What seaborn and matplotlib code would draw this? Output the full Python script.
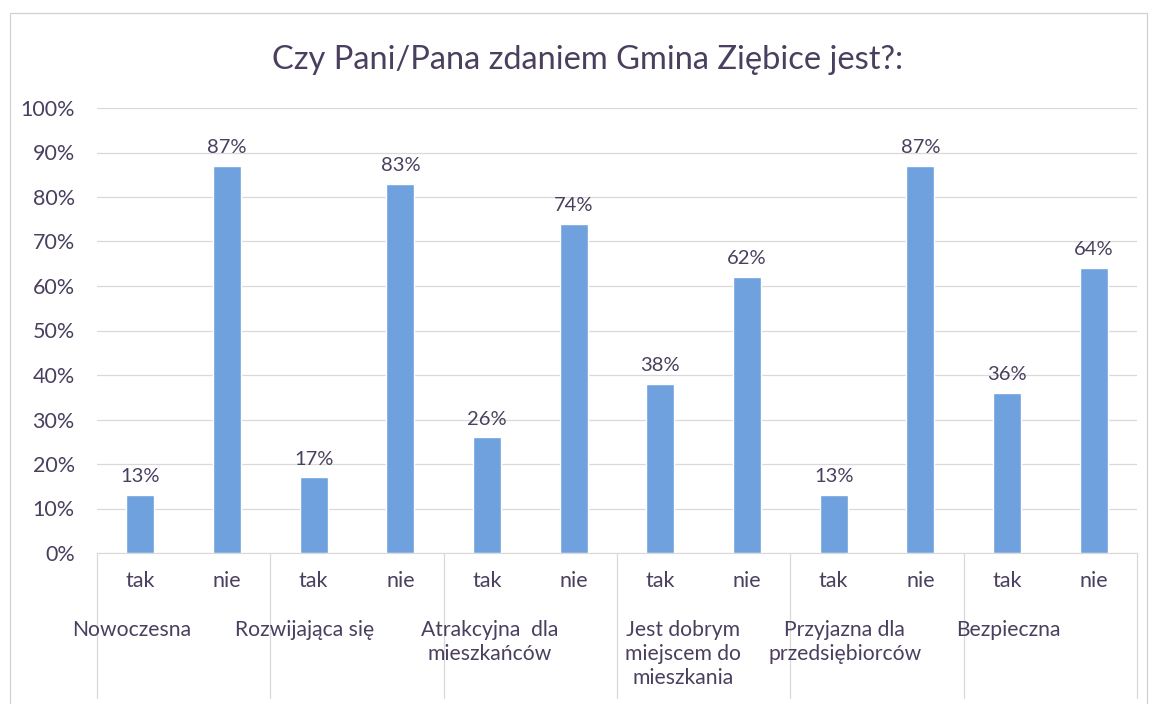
import numpy as np
import pandas as pd
import matplotlib
matplotlib.use('Agg')
import matplotlib.pyplot as plt
import matplotlib.transforms as mtransforms
from matplotlib.patches import Rectangle
import seaborn as sns

# dane z wykresu
grupy = ['Nowoczesna', 'Rozwijająca się', 'Atrakcyjna  dla\nmieszkańców',
         'Jest dobrym\nmiejscem do\nmieszkania', 'Przyjazna dla\nprzedsiębiorców',
         'Bezpieczna']
odpowiedzi = ['tak', 'nie']
tak = [0.13, 0.17, 0.26, 0.38, 0.13, 0.36]
nie = [0.87, 0.83, 0.74, 0.62, 0.87, 0.64]

rows = []
for i, g in enumerate(grupy):
    rows.append({'id': f'{i}_tak', 'odp': 'tak', 'wartosc': tak[i]})
    rows.append({'id': f'{i}_nie', 'odp': 'nie', 'wartosc': nie[i]})
df = pd.DataFrame(rows)

sns.set_style('white')
plt.rcParams['font.family'] = ['Lato', 'DejaVu Sans']

tekst = '#4a3f5e'
niebieski = '#6ea1dd'
siatka = '#d9d9d9'

fig = plt.figure(figsize=(11.57, 7.04), dpi=100)
ax = fig.add_axes([97 / 1157, 1 - 553 / 704, 1040 / 1157, 445 / 704])

sns.barplot(data=df, x='id', y='wartosc', color=niebieski, width=0.32,
            saturation=1, ax=ax)

ax.set_ylim(0, 1)
ax.set_xlim(-0.5, len(df) - 0.5)
ax.set_yticks(np.arange(0, 1.01, 0.1))
ax.set_yticklabels([f'{int(round(v * 100))}%' for v in np.arange(0, 1.01, 0.1)],
                   color=tekst, fontsize=15.5)
ax.yaxis.grid(True, color=siatka, linewidth=0.9)
ax.set_axisbelow(True)
for s in ['top', 'right', 'left']:
    ax.spines[s].set_visible(False)
ax.spines['bottom'].set_color(siatka)
ax.tick_params(axis='y', length=0, pad=16)
ax.tick_params(axis='x', length=0, pad=13)
ax.set_xticks(range(len(df)))
ax.set_xticklabels(df['odp'], color=tekst, fontsize=15.5)
ax.set_xlabel('')
ax.set_ylabel('')

# etykiety wartości
for bar, v in zip(ax.patches, df['wartosc']):
    ax.text(bar.get_x() + bar.get_width() / 2, v + 0.022, f'{int(round(v * 100))}%',
            ha='center', va='bottom', color=tekst, fontsize=14.5)

# nazwy grup i linie podziału
trans = mtransforms.blended_transform_factory(ax.transData, fig.transFigure)
przesun = [-0.1, -0.1, 0.03, 0.26, 0.13, 0.02]
for i, g in enumerate(grupy):
    ax.text(2 * i + przesun[i], 1 - 620 / 704, g, transform=trans, ha='center',
            va='top', color=tekst, fontsize=15.2, linespacing=1.25)
for k in range(len(grupy) + 1):
    x = 2 * k - 0.5
    ax.plot([x, x], [1 - 553 / 704, 1 - 698 / 704], transform=trans,
            color=siatka, linewidth=0.9, clip_on=False)

fig.text(588 / 1157, 1 - 60 / 704, 'Czy Pani/Pana zdaniem Gmina Ziębice jest?:',
         ha='center', va='center', color=tekst, fontsize=23.5)

# ramka wykresu
fig.patches.append(Rectangle((10 / 1157, -0.01), 1137 / 1157, 1 - 13 / 704 + 0.01,
                             transform=fig.transFigure, fill=False,
                             edgecolor='#d0d0d0', linewidth=0.9))

fig.savefig('out.png', dpi=100)
